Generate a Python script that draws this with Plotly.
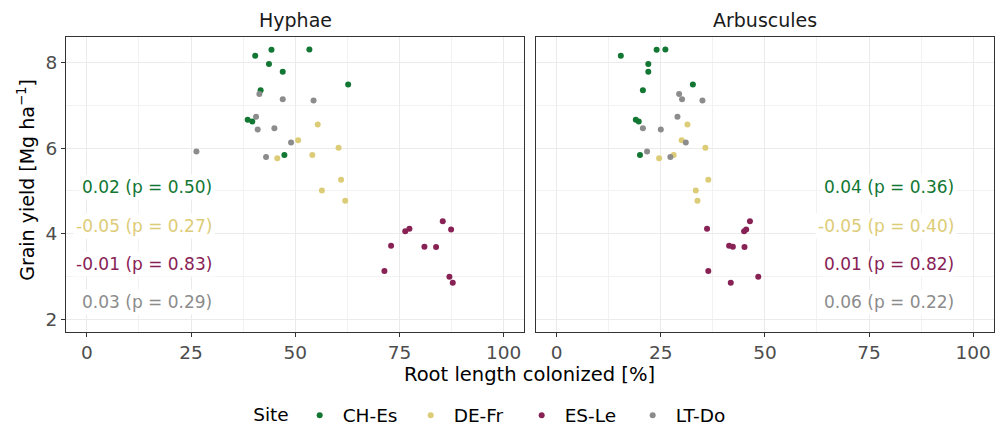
import plotly.graph_objects as go

# ---------------- data ----------------
sites = ["CH-Es", "DE-Fr", "ES-Le", "LT-Do"]
colors = ["#117733", "#DDCC77", "#882255", "#8C8C8C"]

yield_ch = [8.15, 8.29, 8.30, 7.96, 7.78, 7.48, 7.35, 6.66, 6.62, 5.84]
hyph_ch = [40.4, 44.3, 53.4, 43.7, 47.0, 62.7, 41.7, 38.6, 39.7, 47.4]
arb_ch = [15.4, 24.0, 26.1, 22.0, 22.0, 32.7, 20.7, 19.0, 19.7, 20.0]

yield_de = [6.55, 6.18, 6.01, 5.76, 5.84, 5.26, 5.01, 4.77]
hyph_de = [55.4, 50.7, 60.4, 45.7, 54.1, 61.0, 56.4, 62.0]
arb_de = [31.4, 30.0, 35.7, 24.6, 28.1, 36.4, 33.4, 33.8]

yield_es = [4.29, 4.12, 4.06, 4.10, 3.72, 3.70, 3.69, 3.13, 3.00, 2.86]
hyph_es = [85.4, 77.4, 76.4, 87.4, 73.0, 81.0, 83.8, 71.4, 87.0, 87.8]
arb_es = [46.4, 36.1, 45.0, 45.5, 41.4, 42.3, 45.1, 36.4, 48.4, 41.8]

yield_lt = [7.26, 7.14, 7.11, 6.73, 6.43, 6.46, 6.13, 5.92, 5.79]
hyph_lt = [41.4, 47.0, 54.4, 40.6, 41.0, 45.0, 49.0, 26.3, 43.0]
arb_lt = [29.4, 30.1, 35.0, 29.0, 25.0, 20.7, 31.0, 21.7, 27.3]

hyph_slope = ["0.02", "-0.05", "-0.01", "0.03"]
hyph_p = ["0.50", "0.27", "0.83", "0.29"]
arb_slope = ["0.04", "-0.05", "0.01", "0.06"]
arb_p = ["0.36", "0.40", "0.82", "0.22"]

panel_titles = ["Hyphae", "Arbuscules"]
x_ticks = [0, 25, 50, 75, 100]
y_ticks = [2, 4, 6, 8]

# ---------------- layout geometry ----------------
FONT = "DejaVu Sans"
OFF = 8  # default page body margin
W, H = 1003 - OFF, 426 - OFF
ML = 66 - OFF
MT = 37 - OFF
PLOT_R = 993.7 - OFF
PLOT_B = 332.3 - OFF
MR = W - PLOT_R
MB = H - PLOT_B
PW = PLOT_R - ML
PH = PLOT_B - MT


def px_x(page_x):
    return (page_x - OFF - ML) / PW


def px_y(page_y):
    return (PLOT_B - (page_y - OFF)) / PH


yields = [yield_ch, yield_de, yield_es, yield_lt]
hyphs = [hyph_ch, hyph_de, hyph_es, hyph_lt]
arbs = [arb_ch, arb_de, arb_es, arb_lt]

fig = go.Figure()
for i, site in enumerate(sites):
    fig.add_trace(go.Scatter(
        x=hyphs[i], y=yields[i], mode="markers", name=site,
        marker=dict(color=colors[i], size=6), legendgroup=site,
        xaxis="x", yaxis="y"))
    fig.add_trace(go.Scatter(
        x=arbs[i], y=yields[i], mode="markers", name=site,
        marker=dict(color=colors[i], size=6), legendgroup=site,
        showlegend=False, xaxis="x2", yaxis="y2"))

left_dom = [0, px_x(524.3)]
right_dom = [px_x(535.7), 1]

axis_common = dict(
    showline=True, mirror=True, linecolor="#333333", linewidth=1,
    ticklen=4, tickcolor="#333333", tickwidth=1,
    tickfont=dict(family=FONT, size=18.5, color="#4D4D4D"),
    showgrid=True, gridcolor="#EBEBEB", gridwidth=1.4, zeroline=False,
)
xminor = dict(tickvals=[12.5, 37.5, 62.5, 87.5], showgrid=True,
              gridcolor="#F2F2F2", gridwidth=0.7, ticks="")
yminor = dict(tickvals=[3, 5, 7], showgrid=True,
              gridcolor="#F2F2F2", gridwidth=0.7, ticks="")
xr = [-5, 105]
yr = [1.71, 8.59]
fig.update_layout(
    xaxis=dict(domain=left_dom, range=xr, tickvals=x_ticks, minor=xminor,
               ticks="outside", anchor="y", **axis_common),
    yaxis=dict(domain=[0, 1], range=yr, tickvals=y_ticks, minor=yminor,
               ticks="outside", anchor="x", **axis_common),
    xaxis2=dict(domain=right_dom, range=xr, tickvals=x_ticks, minor=xminor,
                ticks="outside", anchor="y2", **axis_common),
    yaxis2=dict(domain=[0, 1], range=yr, tickvals=y_ticks, minor=yminor,
                showticklabels=False, ticks="", anchor="x2", **axis_common),
)

annotations = []
# strip titles
for dom, title in zip([left_dom, right_dom], panel_titles):
    annotations.append(dict(
        text=title, xref="paper", yref="paper", x=(dom[0] + dom[1]) / 2,
        y=px_y(20), xanchor="center", yanchor="middle", showarrow=False,
        font=dict(family=FONT, size=19, color="#1A1A1A")))

# regression labels
label_y = [5.09, 4.19, 3.30, 2.40]
for (xref, yref, xpos, slopes, ps) in [("x", "y", 30.8, hyph_slope, hyph_p),
                                       ("x2", "y2", 96.0, arb_slope, arb_p)]:
    for i in range(4):
        annotations.append(dict(
            text=f"{slopes[i]} (p = {ps[i]})", xref=xref, yref=yref,
            x=xpos, y=label_y[i], xanchor="right", yanchor="middle",
            showarrow=False, bgcolor="white", borderpad=2,
            font=dict(family=FONT, size=17, color=colors[i])))

# axis titles
annotations.append(dict(
    text="Root length colonized [%]", xref="paper", yref="paper",
    x=px_x(529), y=px_y(375), xanchor="center", yanchor="middle",
    showarrow=False, font=dict(family=FONT, size=19.5, color="#000000")))
annotations.append(dict(
    text="Grain yield [Mg ha<sup>−1</sup>]", xref="paper", yref="paper",
    x=px_x(26), y=px_y(180), xanchor="center", yanchor="middle", textangle=-90,
    showarrow=False, font=dict(family=FONT, size=19, color="#000000")))

fig.update_layout(
    annotations=annotations,
    width=W, height=H,
    margin=dict(l=ML, r=MR, t=MT, b=MB, autoexpand=False),
    paper_bgcolor="white", plot_bgcolor="white",
    font=dict(family=FONT, size=18, color="#000000"),
    showlegend=True,
    legend=dict(
        orientation="h", x=px_x(496), y=px_y(416),
        xanchor="center", yanchor="middle",
        title=dict(text="Site", font=dict(family=FONT, size=18.5, color="#000000")),
        font=dict(family=FONT, size=18.5, color="#000000"),
        itemwidth=36, entrywidth=60, tracegroupgap=0,
        bgcolor="rgba(0,0,0,0)"),
)

fig.write_html("out.html")
